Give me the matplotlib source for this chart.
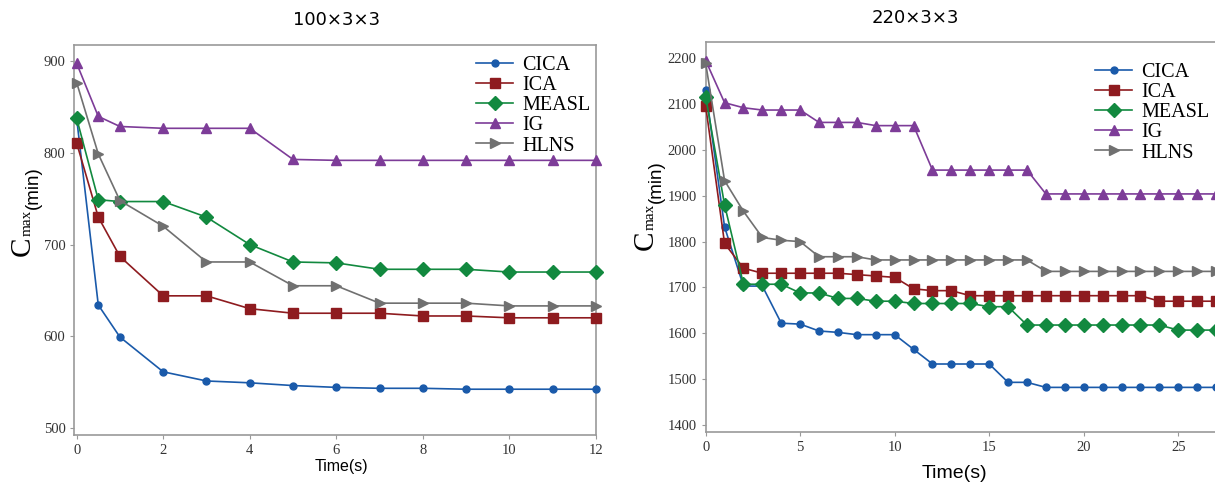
import numpy as np
import matplotlib
matplotlib.use("Agg")
import matplotlib.pyplot as plt

# ---- data: 100x3x3 ----
t_small = [0, 0.5, 1, 2, 3, 4, 5, 6, 7, 8, 9, 10, 11, 12]
cica_small = [838, 634, 599, 561, 551, 549, 546, 544, 543, 543, 542, 542, 542, 542]
ica_small = [811, 730, 687, 644, 644, 630, 625, 625, 625, 622, 622, 620, 620, 620]
measl_small = [838, 749, 747, 747, 730, 700, 681, 680, 673, 673, 673, 670, 670, 670]
ig_small = [898, 840, 829, 827, 827, 827, 793, 792, 792, 792, 792, 792, 792, 792]
hlns_small = [877, 799, 748, 720, 681, 681, 655, 655, 636, 636, 636, 633, 633, 633]

# ---- data: 220x3x3 ----
t_big = list(range(28))
cica_big = [2131, 1832, 1703, 1703, 1622, 1620, 1605, 1602, 1597, 1597, 1597, 1565,
            1533, 1533, 1533, 1533, 1493, 1493, 1482, 1482, 1482, 1482, 1482, 1482,
            1482, 1482, 1482, 1482]
ica_big = [2096, 1796, 1742, 1731, 1731, 1731, 1731, 1731, 1728, 1725, 1722, 1697,
           1693, 1693, 1682, 1682, 1682, 1682, 1682, 1682, 1682, 1682, 1682, 1682,
           1670, 1670, 1670, 1670]
measl_big = [2116, 1880, 1707, 1707, 1707, 1688, 1688, 1676, 1676, 1670, 1670, 1665,
             1665, 1665, 1665, 1658, 1658, 1618, 1618, 1618, 1618, 1618, 1618, 1618,
             1618, 1607, 1607, 1607]
ig_big = [2195, 2103, 2092, 2087, 2087, 2087, 2060, 2060, 2060, 2053, 2053, 2053,
          1956, 1956, 1956, 1956, 1956, 1956, 1904, 1904, 1904, 1904, 1904, 1904,
          1904, 1904, 1904, 1904]
hlns_big = [2189, 1933, 1866, 1809, 1803, 1800, 1767, 1767, 1767, 1760, 1760, 1760,
            1760, 1760, 1760, 1760, 1760, 1760, 1735, 1735, 1735, 1735, 1735, 1735,
            1735, 1735, 1735, 1735]

names = ["CICA", "ICA", "MEASL", "IG", "HLNS"]
colors = ["#1a5aaa", "#8e1b1f", "#12893f", "#7d3c98", "#707070"]
markers = ["o", "s", "D", "^", ">"]
msizes = [5, 7, 7, 7.5, 7.5]

serif = "Liberation Serif"
sans = "Liberation Sans"
tick_col = "#333333"
spine_col = "#999999"

W, H = 1215, 487
fig = plt.figure(figsize=(W / 100, H / 100), dpi=100)


def px(x, y):
    # pixel position (from top-left) -> figure fraction
    return x / W, 1 - y / H


def style(ax):
    for s in ax.spines.values():
        s.set_color(spine_col)
        s.set_linewidth(1.2)
    ax.tick_params(direction="out", length=3, width=0.8, color=spine_col,
                   labelcolor=tick_col, labelsize=10.5)
    for lab in ax.get_xticklabels() + ax.get_yticklabels():
        lab.set_fontfamily(serif)


def ylabel(xb, yb):
    # C (big serif), max (small serif subscript), (min) (sans), written bottom to top
    kw = dict(rotation=90, rotation_mode="anchor", ha="left", va="baseline")
    fig.text(*px(xb, yb), "C", family=serif, fontsize=21, **kw)
    fig.text(*px(xb + 1, yb - 20), "max", family=serif, fontsize=11, **kw)
    fig.text(*px(xb + 8, yb - 47), "(min)", family=sans, fontsize=13.5, **kw)


def legend(ax, x, y):
    ax.legend(loc="upper left", bbox_to_anchor=px(x, y), bbox_transform=fig.transFigure,
              frameon=False, prop={"family": serif, "size": 14.5}, handlelength=1.85,
              labelspacing=0.05, handletextpad=0.45, borderpad=0, borderaxespad=0)


# left panel
ax1 = fig.add_axes([0.0613, 0.1068, 0.4292, 0.8008])
series1 = [cica_small, ica_small, measl_small, ig_small, hlns_small]
for name, ys, c, m, ms in zip(names, series1, colors, markers, msizes):
    ax1.plot(t_small, ys, color=c, marker=m, markersize=ms, linewidth=1.2,
             label=name, clip_on=False, zorder=3)
ax1.set_xlim(-0.05, 12)
ax1.set_ylim(492, 918)
ax1.set_xticks([0, 2, 4, 6, 8, 10, 12])
ax1.set_yticks([500, 600, 700, 800, 900])
style(ax1)
legend(ax1, 476, 56)
fig.text(*px(337, 20), "100×3×3", ha="center", va="center", fontsize=13)
fig.text(*px(341, 467), "Time(s)", ha="center", va="center", family=sans, fontsize=11.5)
ylabel(30, 256)

# right panel (cut off at the figure edge like the reference)
ax2 = fig.add_axes([0.5808, 0.1123, 0.4667, 0.802])
series2 = [cica_big, ica_big, measl_big, ig_big, hlns_big]
for name, ys, c, m, ms in zip(names, series2, colors, markers, msizes):
    ax2.plot(t_big, ys, color=c, marker=m, markersize=ms, linewidth=1.2,
             label=name, clip_on=False, zorder=3)
ax2.set_xlim(0, 30)
ax2.set_ylim(1384, 2236)
ax2.set_xticks([0, 5, 10, 15, 20, 25])
ax2.set_yticks(np.arange(1400, 2201, 100))
style(ax2)
legend(ax2, 1095, 63)
fig.text(*px(915, 18), "220×3×3", ha="center", va="center", fontsize=13)
fig.text(*px(954, 474), "Time(s)", ha="center", va="center", family=sans, fontsize=14)
ylabel(653, 250)

fig.savefig("out.png", dpi=100)
